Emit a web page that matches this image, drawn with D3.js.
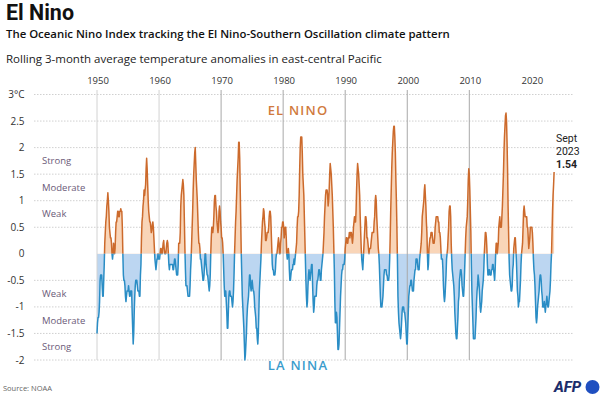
<!DOCTYPE html>
<html>
<head>
<meta charset="utf-8">
<script src="https://cdn.jsdelivr.net/npm/d3@7"></script>
<style>
  body { margin: 0; background: #fff; }
  svg { font-family: "Open Sans", "Noto Sans", sans-serif; }
</style>
</head>
<body>
<div id="chart"></div>
<script>
// ONI, rolling 3-month means (DJF, JFM, ... NDJ) per year, grouped by decade
var oni1950s = [
  -1.5,-1.3,-1.2,-1.2,-1.1,-0.9,-0.5,-0.4,-0.4,-0.4,-0.6,-0.8,
  -0.8,-0.5,-0.2,0.2,0.4,0.6,0.7,0.9,1.0,1.15,1.0,0.8,
  0.5,0.4,0.3,0.3,0.2,0.0,-0.1,0.0,0.2,0.1,0.0,0.1,
  0.4,0.6,0.6,0.7,0.8,0.8,0.7,0.7,0.8,0.8,0.85,0.8,
  0.8,0.5,0.0,-0.4,-0.5,-0.5,-0.6,-0.8,-0.9,-0.8,-0.7,-0.7,
  -0.7,-0.6,-0.7,-0.8,-0.8,-0.7,-0.7,-0.7,-1.1,-1.4,-1.7,-1.5,
  -1.1,-0.8,-0.6,-0.5,-0.5,-0.5,-0.6,-0.7,-0.7,-0.7,-0.8,-0.8,
  -0.4,-0.2,0.3,0.6,0.7,0.9,1.0,1.2,1.1,1.2,1.3,1.6,
  1.8,1.6,1.3,1.0,0.8,0.7,0.6,0.6,0.5,0.4,0.45,0.55,
  0.6,0.5,0.3,0.1,-0.1,-0.2,-0.3,-0.2,-0.1,-0.1,0.0,-0.1
]
var oni1960s = [
  -0.1,-0.1,0.0,0.1,0.1,0.0,0.0,0.1,0.2,0.25,0.1,0.0,
  0.0,0.0,0.1,0.2,0.25,0.2,0.0,-0.2,-0.3,-0.2,-0.2,-0.2,
  -0.2,-0.2,-0.2,-0.3,-0.3,-0.2,-0.1,-0.1,-0.2,-0.3,-0.4,-0.4,
  -0.4,-0.2,0.2,0.2,0.2,0.4,0.9,1.1,1.2,1.3,1.4,1.3,
  1.1,0.6,0.1,-0.3,-0.6,-0.6,-0.6,-0.7,-0.8,-0.8,-0.8,-0.8,
  -0.6,-0.3,-0.1,0.2,0.5,0.8,1.2,1.5,1.7,1.9,2.0,1.7,
  1.4,1.2,1.0,0.7,0.4,0.2,0.2,0.1,-0.1,-0.1,-0.2,-0.3,
  -0.4,-0.5,-0.5,-0.4,-0.2,0.0,0.0,-0.2,-0.3,-0.4,-0.4,-0.5,
  -0.6,-0.7,-0.6,-0.4,0.0,0.3,0.5,0.5,0.4,0.5,0.7,1.0,
  1.1,1.1,0.9,0.8,0.6,0.5,0.4,0.5,0.8,0.9,0.8,0.6
]
var oni1970s = [
  0.5,0.3,0.3,0.2,0.0,-0.3,-0.6,-0.8,-0.8,-0.7,-0.9,-1.1,
  -1.4,-1.4,-1.1,-0.8,-0.7,-0.7,-0.8,-0.8,-0.8,-0.9,-1.0,-0.9,
  -0.7,-0.4,0.0,0.3,0.6,0.8,1.1,1.4,1.6,1.8,2.1,2.1,
  1.8,1.2,0.6,0.0,-0.4,-0.8,-1.0,-1.2,-1.4,-1.7,-2.0,-1.9,
  -1.7,-1.5,-1.2,-1.0,-0.9,-0.8,-0.6,-0.4,-0.4,-0.6,-0.7,-0.6,
  -0.5,-0.6,-0.7,-0.7,-0.8,-1.0,-1.1,-1.2,-1.4,-1.4,-1.6,-1.7,
  -1.5,-1.1,-0.7,-0.5,-0.3,-0.1,0.2,0.4,0.6,0.7,0.85,0.8,
  0.6,0.5,0.25,0.25,0.3,0.4,0.4,0.4,0.5,0.7,0.8,0.8,
  0.7,0.4,0.1,-0.2,-0.3,-0.3,-0.4,-0.4,-0.4,-0.3,-0.1,0.0,
  0.0,0.1,0.2,0.3,0.2,0.0,0.0,0.2,0.3,0.5,0.5,0.6
]
var oni1980s = [
  0.6,0.5,0.3,0.4,0.5,0.5,0.3,0.0,-0.1,0.0,0.1,0.0,
  -0.3,-0.5,-0.5,-0.4,-0.3,-0.3,-0.3,-0.2,-0.2,-0.1,-0.2,-0.1,
  0.0,0.1,0.2,0.5,0.7,0.7,0.8,1.1,1.6,2.0,2.2,2.2,
  2.2,1.9,1.5,1.3,1.1,0.7,0.3,-0.1,-0.5,-0.8,-1.0,-0.9,
  -0.6,-0.4,-0.3,-0.4,-0.5,-0.4,-0.3,-0.2,-0.2,-0.6,-0.9,-1.1,
  -1.0,-0.8,-0.8,-0.8,-0.8,-0.6,-0.5,-0.5,-0.4,-0.3,-0.3,-0.4,
  -0.5,-0.5,-0.3,-0.2,-0.1,0.0,0.2,0.4,0.7,0.9,1.1,1.2,
  1.2,1.2,1.1,0.9,1.0,1.2,1.5,1.7,1.6,1.5,1.3,1.1,
  0.8,0.5,0.1,-0.3,-0.9,-1.3,-1.3,-1.1,-1.2,-1.5,-1.8,-1.8,
  -1.7,-1.4,-1.1,-0.8,-0.6,-0.4,-0.3,-0.3,-0.2,-0.2,-0.2,-0.1
]
var oni1990s = [
  0.1,0.2,0.3,0.3,0.2,0.2,0.3,0.3,0.4,0.3,0.4,0.4,
  0.4,0.3,0.2,0.3,0.5,0.6,0.7,0.6,0.6,0.8,1.2,1.5,
  1.7,1.6,1.5,1.3,1.1,0.7,0.4,0.1,-0.1,-0.2,-0.3,-0.1,
  0.1,0.3,0.5,0.7,0.7,0.6,0.3,0.3,0.2,0.1,0.0,0.1,
  0.1,0.1,0.2,0.3,0.4,0.4,0.4,0.4,0.6,0.7,1.0,1.1,
  1.0,0.7,0.5,0.3,0.1,0.0,-0.2,-0.5,-0.8,-1.0,-1.0,-1.0,
  -0.9,-0.8,-0.6,-0.4,-0.3,-0.3,-0.3,-0.3,-0.4,-0.4,-0.5,-0.5,
  -0.5,-0.4,-0.1,0.3,0.8,1.2,1.6,1.9,2.1,2.3,2.4,2.4,
  2.2,1.9,1.4,1.0,0.5,-0.1,-0.8,-1.1,-1.3,-1.4,-1.5,-1.6,
  -1.5,-1.3,-1.1,-1.0,-1.0,-1.0,-1.1,-1.1,-1.2,-1.3,-1.5,-1.7
]
var oni2000s = [
  -1.7,-1.4,-1.1,-0.8,-0.7,-0.6,-0.6,-0.5,-0.5,-0.6,-0.7,-0.7,
  -0.7,-0.5,-0.4,-0.3,-0.3,-0.1,-0.1,-0.1,-0.2,-0.3,-0.3,-0.3,
  -0.1,0.0,0.1,0.2,0.4,0.7,0.8,0.9,1.0,1.2,1.3,1.1,
  0.9,0.6,0.4,0.0,-0.3,-0.2,0.1,0.2,0.3,0.3,0.4,0.4,
  0.4,0.3,0.2,0.2,0.2,0.3,0.5,0.6,0.7,0.7,0.7,0.7,
  0.6,0.6,0.4,0.4,0.3,0.1,-0.1,-0.1,-0.1,-0.3,-0.6,-0.8,
  -0.9,-0.8,-0.6,-0.4,-0.1,0.0,0.1,0.3,0.5,0.8,0.9,0.9,
  0.7,0.2,-0.1,-0.3,-0.4,-0.5,-0.6,-0.8,-1.1,-1.3,-1.5,-1.6,
  -1.6,-1.4,-1.2,-0.9,-0.8,-0.5,-0.4,-0.3,-0.3,-0.4,-0.6,-0.7,
  -0.8,-0.8,-0.6,-0.3,0.0,0.3,0.5,0.6,0.7,1.0,1.4,1.6
]
var oni2010s = [
  1.5,1.2,0.8,0.4,-0.2,-0.7,-1.0,-1.3,-1.6,-1.6,-1.6,-1.6,
  -1.4,-1.2,-0.9,-0.7,-0.6,-0.4,-0.5,-0.6,-0.8,-1.0,-1.1,-1.0,
  -0.9,-0.7,-0.6,-0.5,-0.3,0.0,0.2,0.4,0.4,0.3,0.1,-0.2,
  -0.4,-0.4,-0.3,-0.3,-0.4,-0.4,-0.4,-0.3,-0.3,-0.2,-0.2,-0.3,
  -0.4,-0.5,-0.3,0.0,0.2,0.2,0.0,0.1,0.2,0.5,0.6,0.7,
  0.5,0.5,0.5,0.7,0.9,1.2,1.5,1.9,2.2,2.4,2.6,2.65,
  2.5,2.1,1.6,0.9,0.4,-0.1,-0.4,-0.5,-0.6,-0.7,-0.7,-0.6,
  -0.3,-0.2,0.1,0.2,0.3,0.3,0.1,-0.1,-0.4,-0.7,-0.8,-1.0,
  -0.9,-0.9,-0.7,-0.5,-0.2,0.0,0.1,0.2,0.5,0.8,0.9,0.8,
  0.7,0.7,0.7,0.7,0.5,0.5,0.3,0.1,0.2,0.3,0.5,0.5
]
var oni2020s = [
  0.5,0.5,0.4,0.2,-0.1,-0.3,-0.4,-0.6,-0.9,-1.2,-1.3,-1.2,
  -1.0,-0.9,-0.8,-0.7,-0.5,-0.4,-0.4,-0.5,-0.7,-0.8,-1.0,-1.0,
  -1.0,-0.9,-1.0,-1.1,-1.0,-0.9,-0.8,-0.9,-1.0,-1.0,-0.9,-0.8,
  -0.7,-0.5,-0.2,0.0,0.4,0.8,1.1,1.3,1.54
]

var decades = [1950, 1960, 1970, 1980, 1990, 2000, 2010, 2020]
var yTicks = [3, 2.5, 2, 1.5, 1, 0.5, 0, -0.5, -1, -1.5, -2]
var yTickLabels = ["3°C", "2.5", "2", "1.5", "1", "0.5", "0", "-0.5", "-1", "-1.5", "-2"]
var strengthLevels = [1.75, 1.25, 0.75, -0.75, -1.25, -1.75]
var strengthLabels = ["Strong", "Moderate", "Weak", "Weak", "Moderate", "Strong"]

var svg_width = 600,
    svg_height = 395

var svg = d3.select("#chart")
    .append("svg")
    .attr("width", svg_width)
    .attr("height", svg_height)

var values = [].concat(oni1950s, oni1960s, oni1970s, oni1980s, oni1990s, oni2000s, oni2010s, oni2020s)
var data = values.map((v, i) => ({ t: 1950 + i / 12, v: v }))

var xScale = d3.scaleLinear().domain([1950, 2010]).range([97, 469.3])
var yScale = d3.scaleLinear().domain([-2, 3]).range([360, 94.5])

// fit a text to a target width by adjusting its font size
function fitWidth(sel, w) {
  var len = sel.node().getComputedTextLength()
  var fs = parseFloat(sel.attr("font-size"))
  sel.attr("font-size", fs * w / len)
}

// titles
fitWidth(svg.append("text").attr("x", 6).attr("y", 19.5)
  .attr("font-size", 19).attr("font-weight", 700).attr("fill", "#111")
  .attr("font-family", "Roboto, sans-serif")
  .text("El Nino"), 68)
fitWidth(svg.append("text").attr("x", 6).attr("y", 37.5)
  .attr("font-size", 11).attr("font-weight", 600).attr("fill", "#111")
  .text("The Oceanic Nino Index tracking the El Nino-Southern Oscillation climate pattern"), 444)
fitWidth(svg.append("text").attr("x", 6).attr("y", 62.5)
  .attr("font-size", 11).attr("fill", "#222")
  .text("Rolling 3-month average temperature anomalies in east-central Pacific"), 376)

// horizontal dotted grid
svg.append("g")
  .selectAll("line")
  .data(yTicks.filter(d => d !== 0))
  .enter()
    .append("line")
    .attr("x1", 34).attr("x2", 573)
    .attr("y1", d => yScale(d)).attr("y2", d => yScale(d))
    .attr("stroke", "#c4c4c4")
    .attr("stroke-width", 0.8)
    .attr("stroke-dasharray", "1.5,1.5")

// y labels
svg.append("g")
  .selectAll("text")
  .data(yTicks)
  .enter()
    .append("text")
    .attr("x", 24.5)
    .attr("y", d => yScale(d))
    .attr("dy", "0.35em")
    .attr("text-anchor", "end")
    .attr("font-size", 10)
    .attr("fill", "#333")
    .text((d, i) => yTickLabels[i])

// strength labels
svg.append("g")
  .selectAll("text")
  .data(strengthLevels)
  .enter()
    .append("text")
    .attr("x", 42)
    .attr("y", d => yScale(d))
    .attr("dy", "0.35em")
    .attr("font-size", 9.5)
    .attr("fill", "#6b5a78")
    .text((d, i) => strengthLabels[i])

// decade labels
svg.append("g")
  .selectAll("text")
  .data(decades)
  .enter()
    .append("text")
    .attr("x", d => xScale(d) + 1)
    .attr("y", 84)
    .attr("text-anchor", "middle")
    .attr("font-size", 9.5)
    .attr("fill", "#333")
    .text(d => d)

var y0 = yScale(0)
var defs = svg.append("defs")
defs.append("clipPath").attr("id", "above")
  .append("rect").attr("x", 0).attr("y", 0).attr("width", svg_width).attr("height", y0)
defs.append("clipPath").attr("id", "below")
  .append("rect").attr("x", 0).attr("y", y0).attr("width", svg_width).attr("height", svg_height - y0)

var area = d3.area()
  .x(d => xScale(d.t))
  .y0(y0)
  .y1(d => yScale(d.v))

var line = d3.line()
  .x(d => xScale(d.t))
  .y(d => yScale(d.v))

svg.append("path").datum(data)
  .attr("d", area).attr("fill", "#f9d5b8").attr("clip-path", "url(#above)")
svg.append("path").datum(data)
  .attr("d", area).attr("fill", "#bcd6f1").attr("clip-path", "url(#below)")

// decade vertical lines
svg.append("g")
  .selectAll("line")
  .data(decades.filter(d => d < 2020))
  .enter()
    .append("line")
    .attr("x1", d => xScale(d)).attr("x2", d => xScale(d))
    .attr("y1", 90).attr("y2", 360)
    .attr("stroke", d => d < 1970 ? "#d2d2d2" : "#a8a8a8")
    .attr("stroke-width", 1)

svg.append("path").datum(data)
  .attr("d", line).attr("fill", "none")
  .attr("stroke", "#cc6a2c").attr("stroke-width", 1.5)
  .attr("stroke-linejoin", "round")
  .attr("clip-path", "url(#above)")
svg.append("path").datum(data)
  .attr("d", line).attr("fill", "none")
  .attr("stroke", "#2a8dc5").attr("stroke-width", 1.5)
  .attr("stroke-linejoin", "round")
  .attr("clip-path", "url(#below)")

// EL NINO / LA NINA
svg.append("text").attr("x", 298).attr("y", 115)
  .attr("text-anchor", "middle").attr("font-size", 13).attr("font-weight", 600)
  .attr("letter-spacing", 1.2).attr("fill", "#d07a3e").text("EL NINO")
svg.append("text").attr("x", 298).attr("y", 370)
  .attr("text-anchor", "middle").attr("font-size", 13).attr("font-weight", 600)
  .attr("letter-spacing", 1.2).attr("fill", "#3a9ccc").text("LA NINA")

// last value annotation
var last = data[data.length - 1]
var ann = svg.append("g").attr("font-size", 10.5).attr("fill", "#222")
  .attr("font-family", "Roboto, sans-serif")
ann.append("text").attr("x", 556).attr("y", 142).text("Sept")
ann.append("text").attr("x", 556).attr("y", 155).text(Math.floor(last.t))
ann.append("text").attr("x", 556).attr("y", 168).attr("font-weight", 700).text(last.v.toFixed(2))

// source and logo
svg.append("text").attr("x", 3).attr("y", 391)
  .attr("font-size", 7.5).attr("fill", "#666").text("Source: NOAA")
svg.append("text").attr("x", 554).attr("y", 392)
  .attr("font-size", 15).attr("font-weight", 800).attr("font-style", "italic")
  .attr("fill", "#1c2d6b").attr("font-family", "Roboto, sans-serif").text("AFP")
svg.append("circle").attr("cx", 592.5).attr("cy", 387).attr("r", 7).attr("fill", "#1f4fc0")
</script>
</body>
</html>
